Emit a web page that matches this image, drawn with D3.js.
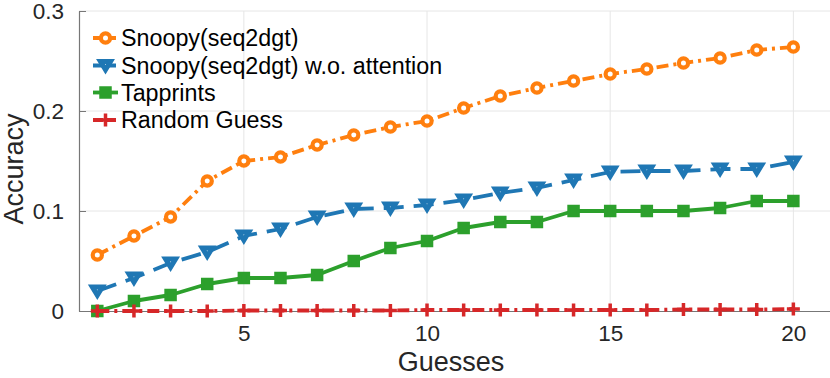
<!DOCTYPE html>
<html>
<head>
<meta charset="utf-8">
<script src="https://cdn.jsdelivr.net/npm/d3@7"></script>
<style>
  html, body { margin: 0; padding: 0; background: #fff; }
  svg { display: block; font-family: "Liberation Sans", Arial, Helvetica, sans-serif; }
</style>
</head>
<body>
<svg id="chart" width="830" height="378"></svg>
<script>
const guesses = d3.range(1, 21);
const snoopy = [0.056, 0.075, 0.094, 0.130, 0.150, 0.154, 0.166, 0.176, 0.184, 0.190,
                0.203, 0.215, 0.223, 0.230, 0.237, 0.242, 0.248, 0.253, 0.261, 0.264];
const snoopyNoAtt = [0.020, 0.033, 0.048, 0.059, 0.075, 0.082, 0.094, 0.102, 0.103, 0.106,
                     0.111, 0.118, 0.123, 0.131, 0.139, 0.140, 0.140, 0.142, 0.142, 0.149];
const tapprints = [0.000, 0.010, 0.016, 0.027, 0.033, 0.033, 0.036, 0.050, 0.063, 0.070,
                   0.083, 0.089, 0.089, 0.100, 0.100, 0.100, 0.100, 0.103, 0.110, 0.110];
const randomGuess = [0.0000, 0.0000, 0.0000, 0.0000, 0.0005, 0.0005, 0.0005, 0.0005, 0.0005, 0.0010,
                     0.0010, 0.0010, 0.0010, 0.0010, 0.0010, 0.0010, 0.0015, 0.0015, 0.0015, 0.0020];
const seriesNames = ["Snoopy(seq2dgt)", "Snoopy(seq2dgt) w.o. attention", "Tapprints", "Random Guess"];
const xTicks = [5, 10, 15, 20];
const yTicks = [0, 0.1, 0.2, 0.3];
const yTickLabels = ["0", "0.1", "0.2", "0.3"];

const styles = [
  {color: "#ff7f0e", dash: "12,5,3,5", marker: "circle"},
  {color: "#1f77b4", dash: "20,10", marker: "triangle"},
  {color: "#2ca02c", dash: null, marker: "square"},
  {color: "#d62728", dash: "12,5,3,5", marker: "plus"}
];
const seriesData = [snoopy, snoopyNoAtt, tapprints, randomGuess];

const svg = d3.select("#chart");
const x = d3.scaleLinear().domain([0.5, 21]).range([79, 830]);
const y = d3.scaleLinear().domain([0, 0.3]).range([311, 11]);

// gridlines
const grid = svg.append("g");
grid.selectAll("line.gx").data(xTicks).join("line")
  .attr("x1", d => x(d)).attr("x2", d => x(d)).attr("y1", y(0)).attr("y2", y(0.3))
  .attr("stroke", "#e6e6e6").attr("stroke-width", 1);
grid.selectAll("line.gy").data(yTicks.slice(1)).join("line")
  .attr("x1", x(0.5)).attr("x2", 830).attr("y1", d => y(d)).attr("y2", d => y(d))
  .attr("stroke", "#e6e6e6").attr("stroke-width", 1);

// axes
const xAxis = d3.axisBottom(x).tickValues(xTicks).tickSizeInner(-7).tickSizeOuter(0).tickPadding(14);
const yAxis = d3.axisLeft(y).tickValues(yTicks).tickFormat((d, i) => yTickLabels[i]).tickSizeInner(-7).tickSizeOuter(0).tickPadding(15);
const gx = svg.append("g").attr("transform", `translate(0,${y(0)})`).call(xAxis);
const gy = svg.append("g").attr("transform", `translate(${x(0.5)},0)`).call(yAxis);
[gx, gy].forEach(g => {
  g.select(".domain").attr("stroke", "#777").attr("stroke-width", 1.2);
  g.selectAll(".tick line").attr("stroke", "#777");
  g.selectAll(".tick text").attr("fill", "#262626").attr("font-size", 22.5)
    .attr("font-family", "'Liberation Sans', Arial, sans-serif");
});
gx.select(".domain").attr("d", `M${x(0.5)},0.5H830`);

// axis labels
svg.append("text").attr("x", 451).attr("y", 371).attr("text-anchor", "middle")
  .attr("font-size", 27).attr("fill", "#262626").text("Guesses");
svg.append("text").attr("transform", "translate(23,169) rotate(-90)").attr("text-anchor", "middle")
  .attr("font-size", 27).attr("fill", "#262626").text("Accuracy");

function drawMarker(g, type, cx, cy, color) {
  if (type === "circle") {
    g.append("circle").attr("cx", cx).attr("cy", cy).attr("r", 4.6)
      .attr("fill", "#fff").attr("stroke", color).attr("stroke-width", 4.2);
  } else if (type === "triangle") {
    g.append("path").attr("d", `M${cx - 5},${cy - 4}L${cx + 5},${cy - 4}L${cx},${cy + 4.2}Z`)
      .attr("fill", "#fff").attr("stroke", color).attr("stroke-width", 5).attr("stroke-linejoin", "miter");
  } else if (type === "square") {
    g.append("rect").attr("x", cx - 4.5).attr("y", cy - 4.5).attr("width", 9).attr("height", 9)
      .attr("fill", color).attr("stroke", color).attr("stroke-width", 3.5);
  } else if (type === "plus") {
    g.append("path").attr("d", `M${cx - 6.5},${cy}H${cx + 6.5}M${cx},${cy - 6.5}V${cy + 6.5}`)
      .attr("stroke", color).attr("stroke-width", 3.5).attr("fill", "none");
  }
}

const line = d3.line().x((d, i) => x(guesses[i])).y(d => y(d));
seriesData.forEach((data, si) => {
  const st = styles[si];
  const g = svg.append("g");
  g.append("path").attr("d", line(data)).attr("fill", "none").attr("stroke", st.color)
    .attr("stroke-width", 3.8).attr("stroke-dasharray", st.dash).attr("stroke-linejoin", "round");
  data.forEach((d, i) => drawMarker(g, st.marker, x(guesses[i]), y(d), st.color));
});

// legend
const legendY = [38, 65.5, 92.5, 120];
seriesNames.forEach((name, si) => {
  const st = styles[si];
  const g = svg.append("g");
  const ly = legendY[si];
  g.append("line").attr("x1", 93).attr("x2", 118).attr("y1", ly).attr("y2", ly)
    .attr("stroke", st.color).attr("stroke-width", 3.8).attr("stroke-dasharray", st.dash ? "10,3" : null);
  drawMarker(g, st.marker, 105.5, ly, st.color);
  g.append("text").attr("x", 121).attr("y", ly + 8).attr("font-size", 23.3).attr("fill", "#000").text(name);
});
</script>
</body>
</html>
